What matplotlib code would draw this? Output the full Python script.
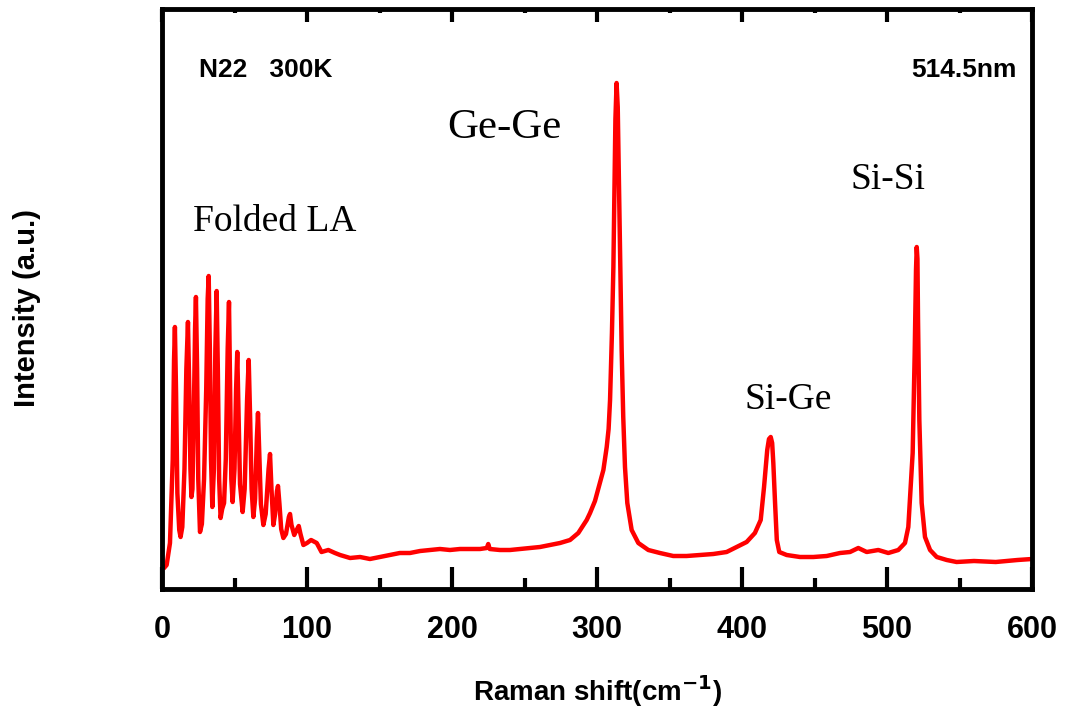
import matplotlib
matplotlib.use("Agg")
import matplotlib.pyplot as plt
from matplotlib.ticker import MultipleLocator

# spectrum (Raman shift in cm-1, intensity in arbitrary units)
shift = [2, 3.2, 5.5, 7.4, 8.3, 8.9, 9.7, 10.6, 11.9, 12.8, 14, 15.5, 16.8, 17.9, 18.8,
         19.6, 20.3, 21, 22, 22.8, 23.4, 24.2, 25, 26.2, 27.5, 29, 30.5, 31.5, 32.2, 33,
         33.8, 34.7, 35.8, 36.8, 37.7, 38.5, 39.4, 40.4, 41.5, 42.8, 44, 45.3, 46.2, 47,
         47.8, 48.7, 50, 51.1, 51.9, 52.7, 53.8, 55.6, 57, 58.7, 59.8, 60.8, 61.8, 63,
         64.2, 65.4, 66.2, 67, 68.2, 69.9, 71.5, 73.5, 74.5, 75.5, 76.8, 78, 79.3, 80, 81,
         82.2, 83.7, 85.5, 87.5, 88.3, 89.3, 91.2, 93.2, 94.3, 95.5, 97.5, 100, 102.8,
         106.7, 110, 114.7, 119.3, 122.8, 129.7, 136.6, 143.4, 150.3, 157.2, 164, 171,
         178, 184.8, 191.7, 198.6, 205.5, 212.4, 219.3, 224, 225, 226, 233, 240, 246.9,
         253.8, 260.7, 267.6, 274.5, 281.4, 287.1, 292.9, 295.2, 298.6, 301, 304.4, 306.7,
         308, 309, 310.3, 311.3, 312, 312.7, 313.5, 314.3, 315, 315.9, 317, 318.1, 319.3,
         320.9, 323.9, 328.5, 335.4, 343.4, 352.6, 361.8, 371, 380.2, 389.4, 396.3, 403.2,
         408.9, 412.9, 415.2, 417.4, 418.6, 419.8, 420.8, 421.6, 422.8, 424, 425.7, 430.8,
         440, 449.2, 458.4, 467.6, 474.5, 480.2, 486, 494, 500.9, 507.8, 512.4, 514.7,
         515.9, 517.7, 519.1, 520, 520.5, 521, 521.4, 522.3, 523.9, 526.2, 529.7, 534.3,
         541.2, 548, 560, 575, 590, 600]
intensity = [22, 24, 46, 129, 229, 262, 196, 96, 59, 52, 62, 120, 220, 267, 200,
             120, 92, 100, 180, 260, 292, 220, 110, 57, 65, 110, 200, 290, 313, 240,
             130, 82, 120, 240, 298, 220, 110, 71, 80, 86, 130, 240, 287, 200,
             110, 87, 120, 200, 237, 180, 105, 77, 100, 190, 229, 170, 100, 72,
             90, 150, 176, 140, 85, 64, 75, 120, 135, 100, 64, 75, 98, 103, 85,
             60, 51, 55, 72, 75, 64, 54, 60, 63, 55, 44, 46, 49,
             46, 37, 39, 36, 34, 31, 32, 30, 32, 34, 36, 36,
             38, 39, 40, 39, 40, 40, 40, 41, 45, 40, 39, 39, 40,
             41, 42, 44, 46, 49, 56, 69, 76, 88, 101, 119, 142,
             160, 189, 256, 322, 400, 470, 506, 482, 420, 339, 239, 172, 122,
             86, 59, 46, 39, 36, 33, 33, 34, 35, 37, 42, 47,
             56, 69, 102, 139, 150, 152, 146, 126, 86, 49, 37, 34,
             32, 32, 33, 36, 37, 41, 37, 39, 36, 39, 46, 62,
             92, 136, 236, 319, 342, 330, 269, 169, 86, 52, 39, 32,
             29, 27, 28, 27, 29, 30]

xticks = [0, 100, 200, 300, 400, 500, 600]

fig = plt.figure(figsize=(10.75, 7.13), dpi=100)
ax = fig.add_axes([162/1075, 1-589/713, 870/1075, 580/713])

ax.plot(shift, intensity, color='red', lw=3.2)

ax.set_xlim(0, 600)
ax.set_ylim(0, 580)
ax.set_xticks(xticks)
ax.xaxis.set_minor_locator(MultipleLocator(50))
ax.set_yticks([])

for sp in ax.spines.values():
    sp.set_linewidth(3.5)

ax.tick_params(axis='x', which='major', direction='in', length=16, width=3, top=False, pad=19)
ax.tick_params(axis='x', which='minor', direction='in', length=8, width=3, top=False)
secax = ax.secondary_xaxis('top')
secax.set_xticks(xticks)
secax.xaxis.set_minor_locator(MultipleLocator(50))
secax.tick_params(axis='x', which='major', direction='in', length=9, width=3, labeltop=False)
secax.tick_params(axis='x', which='minor', direction='in', length=3, width=3)
secax.spines['top'].set_visible(False)

for lab in ax.get_xticklabels():
    lab.set_fontfamily('Liberation Sans')
    lab.set_fontweight('bold')
    lab.set_fontsize(22)

ax.set_xlabel('Raman shift(cm$^{\\mathbf{-1}}$)', fontsize=20, fontweight='bold',
              family='Liberation Sans')
ax.xaxis.set_label_coords(0.5, -0.145)
ax.set_ylabel('Intensity (a.u.)', fontsize=21, fontweight='bold',
              family='Liberation Sans')
ax.yaxis.set_label_coords(-0.139, 0.484)

bold = dict(fontsize=19, fontweight='bold', family='Liberation Sans', va='center')
ax.text(25.5, 519, 'N22   300K', **bold)
ax.text(589.7, 519, '514.5nm', ha='right', **bold)

serif = dict(family='Liberation Serif', fontsize=27, va='center')
ax.text(21.4, 367, 'Folded LA', **serif)
ax.text(196.6, 461, 'Ge-Ge', **dict(serif, fontsize=31))
ax.text(402, 189, 'Si-Ge', **serif)
ax.text(475, 409, 'Si-Si', **serif)

fig.savefig('out.png', dpi=100)
